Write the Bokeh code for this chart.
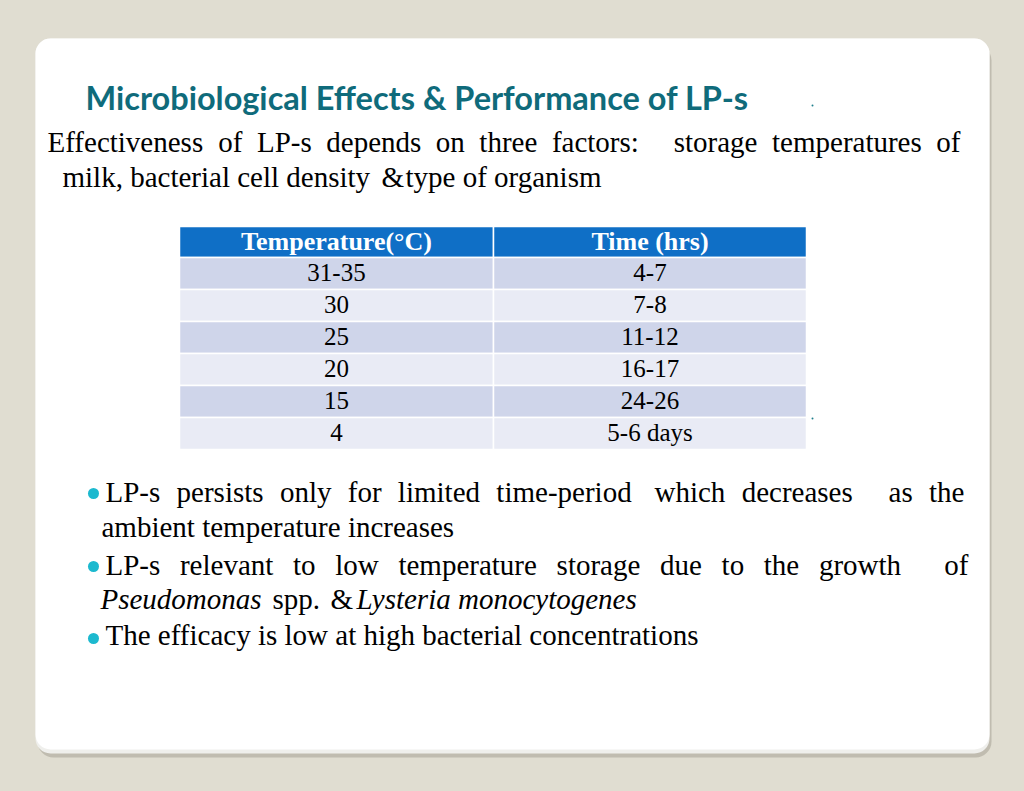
from bokeh.plotting import figure
from bokeh.models import Range1d, BoxAnnotation, GlobalInlineStyleSheet, ColumnDataSource
from bokeh.core.properties import value
from bokeh.embed import file_html
from bokeh.resources import INLINE

# ---------------- data ----------------
title = "Microbiological Effects & Performance of LP-s"
intro_line1_words = ["Effectiveness", "of", "LP-s", "depends", "on", "three", "factors:", "storage", "temperatures", "of"]
intro_line1_gaps = [1, 1, 1, 1, 1, 1, 2.4, 1, 1]
intro_line2_parts = ["milk, bacterial cell density", "&", "type of organism"]

header = ["Temperature(°C)", "Time (hrs)"]
temperatures = ["31-35", "30", "25", "20", "15", "4"]
times = ["4-7", "7-8", "11-12", "16-17", "24-26", "5-6 days"]

bullet1_words = ["LP-s", "persists", "only", "for", "limited", "time-period", "which", "decreases", "as", "the"]
bullet1_gaps = [1, 1, 1, 1, 1, 1.4, 1, 2.2, 1]
bullet1_line2 = "ambient temperature increases"
bullet2_words = ["LP-s", "relevant", "to", "low", "temperature", "storage", "due", "to", "the", "growth", "of"]
bullet2_gaps = [1, 1, 1, 1, 1, 1, 1, 1, 1, 2.2]
bullet2_line2_parts = ["Pseudomonas", "spp.", "&", "Lysteria monocytogenes"]
bullet2_line2_styles = ["italic", "normal", "normal", "italic"]
bullet3 = "The efficacy is low at high bacterial concentrations"

# ---------------- text metrics (Times / Liberation Serif advance widths, 1/1000 em) ----------------
W = {" ": 250, ",": 250, "-": 333, ".": 250, ":": 278, "&": 778, "(": 333, ")": 333,
     "E": 611, "L": 611, "P": 556, "T": 611,
     "a": 444, "b": 500, "c": 444, "d": 500, "e": 444, "f": 333, "g": 500, "h": 500, "i": 278,
     "k": 500, "l": 278, "m": 778, "n": 500, "o": 500, "p": 500, "r": 333, "s": 389, "t": 278,
     "u": 500, "v": 500, "w": 722, "y": 500}


def text_width(s, size):
    return sum(W.get(c, 500) for c in s) * size / 1000.0


def justify(words, x_start, x_end, size, gaps):
    widths = [text_width(w, size) for w in words]
    unit = (x_end - x_start - sum(widths)) / sum(gaps)
    xs, x = [], x_start
    for i, w in enumerate(widths):
        xs.append(x)
        if i < len(gaps):
            x += w + unit * gaps[i]
    return xs


# ---------------- styling ----------------
BG = "#e0ddd1"
SERIF = value("Liberation Serif")
BODY = 29
BODY_PX = "29px"


def base(y, size):
    # visual alphabetic baseline -> anchor used by the renderer
    return y - 0.36 * size


p = figure(width=1008, height=775, x_range=Range1d(0, 1008), y_range=Range1d(775, 0),
           output_backend="svg", toolbar_location=None, min_border=0)
p.axis.visible = False
p.grid.visible = False
p.outline_line_color = None
p.background_fill_color = BG
p.border_fill_color = BG
p.stylesheets = [GlobalInlineStyleSheet(css="html, body { background: #e0ddd1; }")]

# card with shadow
p.add_layout(BoxAnnotation(left=37, right=991, top=44, bottom=757, fill_color="#aaa799", fill_alpha=0.6,
                           line_color=None, border_radius=16, level="underlay"))
p.add_layout(BoxAnnotation(left=35, right=989, top=38, bottom=753, fill_color="#efefec", fill_alpha=1,
                           line_color=None, border_radius=15, level="underlay"))
p.add_layout(BoxAnnotation(left=35, right=989, top=38, bottom=749, fill_color="white", fill_alpha=1,
                           line_color=None, border_radius=15, level="underlay"))

# table cells (drawn first so that all texts lie above)
x0, xm, x1 = 179, 493, 806
top0, hh, rh = 226, 31, 32
n = len(temperatures)
p.quad(left=[x0, xm], right=[xm, x1], top=[top0, top0], bottom=[top0 + hh] * 2,
       fill_color="#0f6fc6", line_color="white", line_width=1.5)
row_tops = [top0 + hh + i * rh for i in range(n)]
row_bots = [t + rh for t in row_tops]
row_cols = ["#cfd5ea" if i % 2 == 0 else "#e9ebf5" for i in range(n)]
p.quad(left=[x0] * n + [xm] * n, right=[xm] * n + [x1] * n, top=row_tops * 2, bottom=row_bots * 2,
       fill_color=row_cols * 2, line_color="white", line_width=1.5)

# title
p.text(x=[85], y=[base(109, 32.5)], text=[title], text_font=value("Lato"), text_font_style="bold",
       text_font_size="32.5px", text_color="#0f6b7b", text_baseline="alphabetic")
p.scatter(x=[812, 812], y=[105, 418], size=2, color="#1f7f8c", line_color=None)

# intro
xs = justify(intro_line1_words, 47, 960, BODY, intro_line1_gaps)
p.text(x=xs, y=[base(152, BODY)] * len(xs), text=intro_line1_words, text_font=SERIF,
       text_font_size=BODY_PX, text_color="black", text_baseline="alphabetic")
p.text(x=[62, 381, 405], y=[base(187, BODY)] * 3, text=intro_line2_parts, text_font=SERIF,
       text_font_size=BODY_PX, text_color="black", text_baseline="alphabetic")

# table texts
p.text(x=[(x0 + xm) / 2, (xm + x1) / 2], y=[base(250, 26)] * 2, text=header, text_font=SERIF,
       text_font_style="bold", text_font_size="26px", text_color="white", text_align="center",
       text_baseline="alphabetic")
baselines = [base(t + rh / 2 + 8.3, 25) for t in row_tops]
p.text(x=[(x0 + xm) / 2] * n, y=baselines, text=temperatures, text_font=SERIF, text_font_size="25px",
       text_color="black", text_align="center", text_baseline="alphabetic")
p.text(x=[(xm + x1) / 2] * n, y=baselines, text=times, text_font=SERIF, text_font_size="25px",
       text_color="black", text_align="center", text_baseline="alphabetic")

# bullets
p.scatter(x=[93, 93, 93], y=[493, 566, 638], size=11, color="#1cb9cf", line_color=None)
xs = justify(bullet1_words, 105, 964, BODY, bullet1_gaps)
p.text(x=xs, y=[base(502, BODY)] * len(xs), text=bullet1_words, text_font=SERIF, text_font_size=BODY_PX,
       text_color="black", text_baseline="alphabetic")
p.text(x=[101], y=[base(537, BODY)], text=[bullet1_line2], text_font=SERIF, text_font_size=BODY_PX,
       text_color="black", text_baseline="alphabetic")
xs = justify(bullet2_words, 105, 968, BODY, bullet2_gaps)
p.text(x=xs, y=[base(575, BODY)] * len(xs), text=bullet2_words, text_font=SERIF, text_font_size=BODY_PX,
       text_color="black", text_baseline="alphabetic")
src = ColumnDataSource(dict(x=[100, 272, 330, 356], y=[base(609, BODY)] * 4, t=bullet2_line2_parts,
                            s=bullet2_line2_styles))
p.text(x="x", y="y", text="t", text_font_style="s", source=src, text_font=SERIF, text_font_size=BODY_PX,
       text_color="black", text_baseline="alphabetic")
p.text(x=[105], y=[base(645, BODY)], text=[bullet3], text_font=SERIF, text_font_size=BODY_PX,
       text_color="black", text_baseline="alphabetic")

open("out.html", "w").write(file_html(p, INLINE))
